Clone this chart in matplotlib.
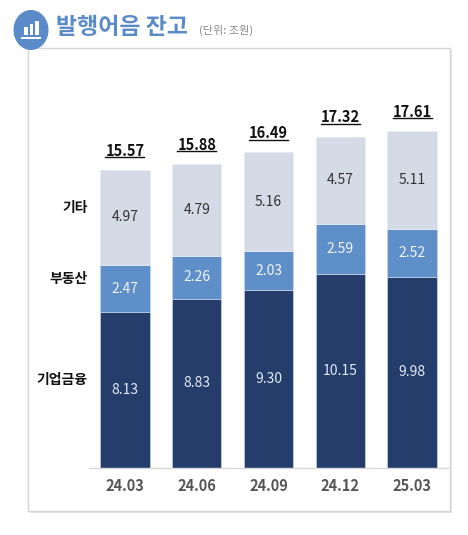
import matplotlib.pyplot as plt
from matplotlib.patches import Circle, Rectangle
import numpy as np

plt.rcParams['font.family'] = ['Noto Sans CJK KR', 'DejaVu Sans']

periods = ['24.03', '24.06', '24.09', '24.12', '25.03']
corp = [8.13, 8.83, 9.30, 10.15, 9.98]
realty = [2.47, 2.26, 2.03, 2.59, 2.52]
other = [4.97, 4.79, 5.16, 4.57, 5.11]
totals = ['15.57', '15.88', '16.49', '17.32', '17.61']
series_names = ['기업금융', '부동산', '기타']

W, H = 468, 535
fig = plt.figure(figsize=(W / 100, H / 100), dpi=100)

def fx(px):
    return px / W

def fy(py):
    return 1 - py / H

# panel frame with a soft shadow
fig.patches.append(Rectangle((fx(30), fy(513)), fx(422), (513 - 50) / H,
                             transform=fig.transFigure, facecolor='#e6e6e6',
                             edgecolor='none', zorder=0))
fig.patches.append(Rectangle((fx(28), fy(511)), fx(422), (511 - 48) / H,
                             transform=fig.transFigure, facecolor='white',
                             edgecolor='#d6d6d6', linewidth=1, zorder=1))

# title icon
fig.patches.append(Circle((fx(31), fy(30)), 17.5 / W, transform=fig.transFigure,
                          facecolor='#5b8ac8', edgecolor='none', zorder=2))
for bx, bh in [(24, 8), (29.5, 11), (35, 14)]:
    fig.patches.append(Rectangle((fx(bx), fy(35)), fx(3.6), bh / H,
                                 transform=fig.transFigure, facecolor='white',
                                 edgecolor='none', zorder=3))
fig.patches.append(Rectangle((fx(21), fy(39)), fx(20), 1.8 / H,
                             transform=fig.transFigure, facecolor='white',
                             edgecolor='none', zorder=3))

fig.text(fx(56), fy(27), '발행어음 잔고', fontsize=16.5, fontweight='bold',
         color='#5b8ac8', va='center', ha='left')
fig.text(fx(199), fy(30), '(단위: 조원)', fontsize=8, color='#8a8a8a',
         va='center', ha='left')

ax = fig.add_axes([fx(89), fy(468), fx(448 - 89), (468 - 110) / H])
ax.set_facecolor('none')
ax.set_zorder(5)

x = np.arange(len(periods))
corp = np.array(corp)
realty = np.array(realty)
other = np.array(other)
bw = 0.69
ec = '#c5d3e8'
ax.bar(x, corp, bw, color='#253d6b', edgecolor=ec, linewidth=0.5)
ax.bar(x, realty, bw, bottom=corp, color='#5f8fc8', edgecolor=ec, linewidth=0.5)
ax.bar(x, other, bw, bottom=corp + realty, color='#d5dbe6', edgecolor='#e8ecf3', linewidth=0.5)

for i in range(len(x)):
    ax.text(x[i], corp[i] / 2, f'{corp[i]:.2f}', ha='center', va='center',
            fontsize=10, color='#e3eaf5')
    ax.text(x[i], corp[i] + realty[i] / 2, f'{realty[i]:.2f}', ha='center',
            va='center', fontsize=10, color='#f2f5fa')
    ax.text(x[i], corp[i] + realty[i] + other[i] / 2, f'{other[i]:.2f}',
            ha='center', va='center', fontsize=10, color='#333333')

top = corp + realty + other
tot_texts = []
for i in range(len(x)):
    t = ax.annotate(totals[i], (x[i], top[i]), xytext=(0, 8),
                    textcoords='offset points', ha='center', va='bottom',
                    fontsize=10.5, fontweight='bold', color='#111111')
    tot_texts.append(t)

# series labels to the left of first bar
mids = [corp[0] / 2, corp[0] + realty[0] / 2, corp[0] + realty[0] + other[0] / 2]
for name, m in zip(series_names, mids):
    ax.annotate(name, (-0.5, m), xytext=(-1, 7), textcoords='offset points',
                ha='right', va='center', fontsize=10, fontweight='bold',
                color='#111111', annotation_clip=False)

ax.set_xlim(-0.5, 4.5)
ax.set_ylim(0, 18.7)
ax.set_xticks(x)
ax.set_xticklabels(periods, fontsize=10.5, fontweight='bold', color='#555555')
ax.tick_params(axis='x', length=0, pad=7)
ax.set_yticks([])
for s in ['top', 'right', 'left']:
    ax.spines[s].set_visible(False)
ax.spines['bottom'].set_color('#d9d9d9')
ax.spines['bottom'].set_linewidth(1)

# underline the totals
fig.canvas.draw()
r = fig.canvas.get_renderer()
inv = ax.transData.inverted()
for t in tot_texts:
    bb = t.get_window_extent(r)
    (x0, y0), (x1, _) = inv.transform([(bb.x0, bb.y0 + 1.5), (bb.x1, bb.y0)])
    ax.plot([x0, x1], [y0, y0], color='#111111', linewidth=1, clip_on=False)

fig.savefig('out.png', dpi=100)
